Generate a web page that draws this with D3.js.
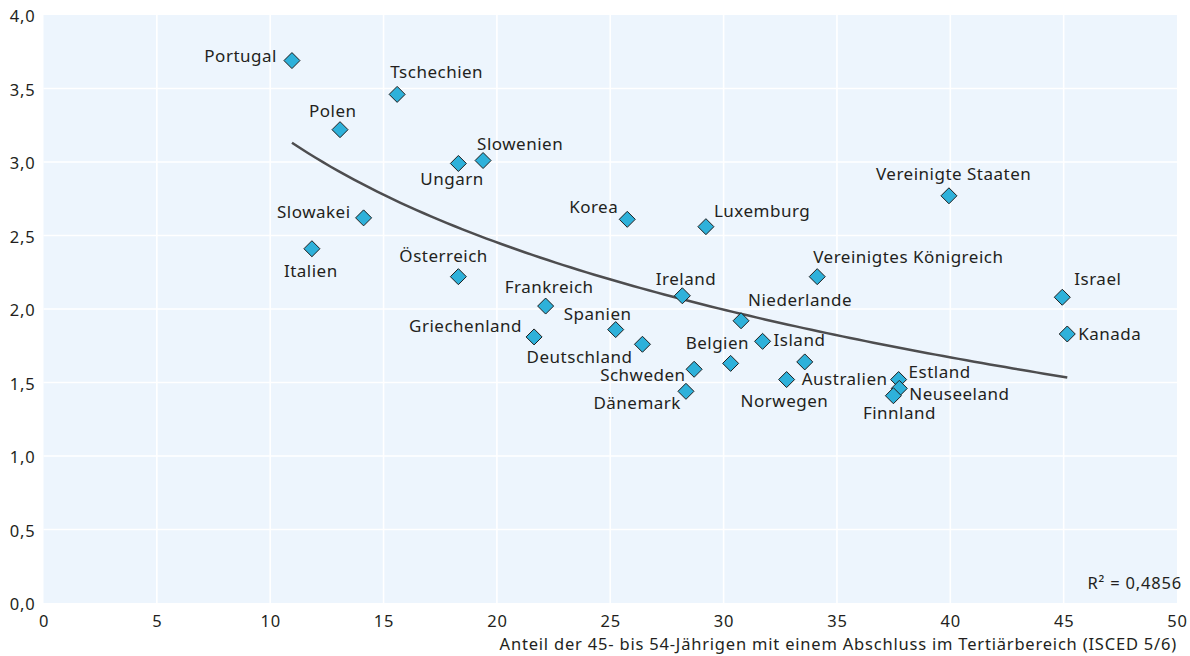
<!DOCTYPE html>
<html>
<head>
<meta charset="utf-8">
<script src="https://cdn.jsdelivr.net/npm/d3@7"></script>
<style>
  html, body { margin: 0; padding: 0; background: #ffffff; }
  svg { display: block; font-family: "Noto Sans", "Open Sans", sans-serif; }
</style>
</head>
<body>
<svg id="chart" width="1190" height="656"></svg>
<script>
// Countries and their values
const countries = [
  "Portugal", "Tschechien", "Polen", "Slowenien", "Ungarn", "Slowakei", "Italien",
  "Österreich", "Frankreich", "Griechenland", "Spanien", "Deutschland", "Schweden",
  "Dänemark", "Ireland", "Korea", "Luxemburg", "Vereinigtes Königreich",
  "Vereinigte Staaten", "Niederlande", "Belgien", "Island", "Australien", "Norwegen",
  "Estland", "Neuseeland", "Finnland", "Israel", "Kanada"
];
// Share of 45- to 54-year-olds with tertiary degree (%)
const tertiaryShare = [
  10.96, 15.6, 13.08, 19.39, 18.3, 14.12, 11.84,
  18.3, 22.15, 21.64, 25.24, 26.42, 28.7,
  28.34, 28.18, 25.75, 29.22, 34.13,
  39.94, 30.77, 30.31, 31.72, 33.58, 32.78,
  37.72, 37.75, 37.49, 44.94, 45.16
];
// Y values
const yValues = [
  3.69, 3.46, 3.22, 3.01, 2.99, 2.62, 2.41,
  2.22, 2.02, 1.81, 1.86, 1.76, 1.59,
  1.44, 2.09, 2.61, 2.56, 2.22,
  2.77, 1.92, 1.63, 1.78, 1.64, 1.52,
  1.52, 1.46, 1.41, 2.08, 1.83
];
const xTicks = [0, 5, 10, 15, 20, 25, 30, 35, 40, 45, 50];
const yTicks = [0, 0.5, 1, 1.5, 2, 2.5, 3, 3.5, 4];
const xAxisTitle = "Anteil der 45- bis 54-Jährigen mit einem Abschluss im Tertiärbereich (ISCED 5/6)";
const rSquaredText = "R² = 0,4856";

// Label placement: [dx, dy (baseline), anchor] relative to the marker
const labelPlacement = {
  "Portugal": [-15, 1, "end"],
  "Tschechien": [-7, -16, "start"],
  "Polen": [-31, -13, "start"],
  "Slowenien": [-6, -11, "start"],
  "Ungarn": [-38, 22, "start"],
  "Slowakei": [-13, 0, "end"],
  "Italien": [-28, 28, "start"],
  "Österreich": [-59, -15, "start"],
  "Frankreich": [-41, -13, "start"],
  "Griechenland": [-12, -4.5, "end"],
  "Spanien": [-52, -10, "start"],
  "Deutschland": [-10, 19, "end"],
  "Schweden": [-8.5, 12, "end"],
  "Dänemark": [-5, 18, "end"],
  "Ireland": [-26.5, -11, "start"],
  "Korea": [-9, -6, "end"],
  "Luxemburg": [8, -10, "start"],
  "Vereinigtes Königreich": [-4, -14, "start"],
  "Vereinigte Staaten": [-73, -16, "start"],
  "Niederlande": [7, -15, "start"],
  "Belgien": [-45, -14, "start"],
  "Island": [11, 5, "start"],
  "Australien": [-3, 23, "start"],
  "Norwegen": [-46, 27, "start"],
  "Estland": [10, -2, "start"],
  "Neuseeland": [10, 12, "start"],
  "Finnland": [-30.5, 23.5, "start"],
  "Israel": [12, -12, "start"],
  "Kanada": [11, 6, "start"]
};

const data = countries.map((c, i) => ({ name: c, x: tertiaryShare[i], y: yValues[i] }));

const svg = d3.select("#chart");
const plotLeft = 43.5, plotRight = 1177, plotTop = 15, plotBottom = 603;

const x = d3.scaleLinear().domain([0, 50]).range([plotLeft, plotRight]);
const y = d3.scaleLinear().domain([0, 4]).range([plotBottom, plotTop]);

const textColor = "#231f20";
const axisFont = 16.5, axisSpacing = 0.8;
const fmt = d3.format(".1f");
const deComma = v => fmt(v).replace(".", ",");

// Plot background
svg.append("rect")
  .attr("x", plotLeft).attr("y", plotTop)
  .attr("width", plotRight - plotLeft).attr("height", plotBottom - plotTop)
  .attr("fill", "#edf5fd");

// Gridlines
const grid = svg.append("g").attr("stroke", "#ffffff").attr("stroke-width", 1.6);
grid.selectAll("line.v").data(xTicks.slice(1, -1)).join("line")
  .attr("class", "v")
  .attr("x1", d => x(d)).attr("x2", d => x(d))
  .attr("y1", plotTop).attr("y2", plotBottom);
grid.selectAll("line.h").data(yTicks.slice(1, -1)).join("line")
  .attr("class", "h")
  .attr("x1", plotLeft).attr("x2", plotRight)
  .attr("y1", d => y(d)).attr("y2", d => y(d));

// Axes (labels only)
const xAxis = d3.axisBottom(x).tickValues(xTicks).tickSize(0).tickPadding(12.5)
  .tickFormat(d => String(d));
const gx = svg.append("g").attr("transform", `translate(0,${plotBottom})`).call(xAxis);
gx.select(".domain").remove();
gx.selectAll("text").attr("font-size", axisFont).attr("letter-spacing", axisSpacing)
  .attr("fill", textColor).attr("font-family", "Noto Sans, sans-serif");

const yAxis = d3.axisLeft(y).tickValues(yTicks).tickSize(0).tickPadding(8)
  .tickFormat(deComma);
const gy = svg.append("g").attr("transform", `translate(${plotLeft},0)`).call(yAxis);
gy.select(".domain").remove();
gy.selectAll("text").attr("font-size", axisFont).attr("letter-spacing", axisSpacing)
  .attr("fill", textColor).attr("font-family", "Noto Sans, sans-serif")
  .attr("dy", "0.42em");

// Axis title
svg.append("text")
  .attr("x", plotRight).attr("y", 649.5)
  .attr("text-anchor", "end")
  .attr("font-size", axisFont)
  .attr("letter-spacing", axisSpacing)
  .attr("fill", textColor)
  .text(xAxisTitle);

// Logarithmic trend line fitted to the data (y = a + b ln x)
const lx = data.map(d => Math.log(d.x));
const mx = d3.mean(lx), my = d3.mean(data, d => d.y);
const b = d3.sum(data, (d, i) => (lx[i] - mx) * (d.y - my)) / d3.sum(lx, v => (v - mx) * (v - mx));
const a = my - b * mx;
const [xmin, xmax] = d3.extent(data, d => d.x);
const trendPts = d3.range(0, 101).map(k => {
  const xv = xmin + (xmax - xmin) * k / 100;
  return [xv, a + b * Math.log(xv)];
});
svg.append("path")
  .attr("d", d3.line().x(d => x(d[0])).y(d => y(d[1]))(trendPts))
  .attr("fill", "none")
  .attr("stroke", "#4d4d4f")
  .attr("stroke-width", 2.5);

// Markers (diamonds)
const h = 8;
const diamond = `M0,${-h}L${h},0L0,${h}L${-h},0Z`;
svg.append("g").selectAll("path").data(data).join("path")
  .attr("d", diamond)
  .attr("transform", d => `translate(${x(d.x)},${y(d.y)})`)
  .attr("fill", "#2eb1da")
  .attr("stroke", "#1e1e1e")
  .attr("stroke-width", 1);

// Country labels
svg.append("g").selectAll("text").data(data).join("text")
  .attr("x", d => x(d.x) + labelPlacement[d.name][0])
  .attr("y", d => y(d.y) + labelPlacement[d.name][1])
  .attr("text-anchor", d => labelPlacement[d.name][2])
  .attr("font-size", 17)
  .attr("letter-spacing", 0.5)
  .attr("fill", textColor)
  .text(d => d.name);

// R² annotation
svg.append("text")
  .attr("x", 1182).attr("y", 589)
  .attr("text-anchor", "end")
  .attr("font-size", axisFont)
  .attr("letter-spacing", axisSpacing)
  .attr("fill", textColor)
  .text(rSquaredText);
</script>
</body>
</html>
